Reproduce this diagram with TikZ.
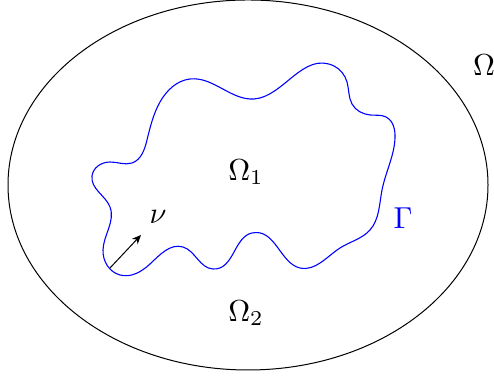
\documentclass[tikz,border=0pt]{standalone}
\usetikzlibrary{arrows.meta,hobby}
\begin{document}
\begin{tikzpicture}[x=0.33pt,y=-0.33pt,
  lab/.style={inner sep=0pt},
  thinline/.style={line width=0.33pt},
  gam/.style={blue, line width=0.36pt}]
\useasboundingbox (0,0) rectangle (494,378);
\draw[thinline] (248,185) ellipse [x radius=240, y radius=185];
\draw[gam, use Hobby shortcut, closed=true]
 (120,275) .. (103,250) .. (110,207) .. (92,176) .. (110,162) .. (132,163)
 .. (147,140) .. (160,102) .. (190,79) .. (254,99) .. (334,66)
 .. (347,82) .. (352,104) .. (370,115) .. (386,117)
 .. (395,138) .. (382,190) .. (370,230) .. (340,248) .. (300,268) .. (252,233)
 .. (213,269) .. (183,247) .. (150,264);
\coordinate (nbase) at (110,268);
\coordinate (ntip) at (141,235);
\draw[thinline,-{Stealth[length=3pt,width=2.6pt]}] (nbase) -- (ntip);
\node[lab] (nu) at (158,217) {$\nu$};
\node[lab] (o1) at (246,172) {$\Omega_1$};
\node[lab] (o2) at (246,313) {$\Omega_2$};
\node[lab,blue] (g) at (403,218) {$\Gamma$};
\node[lab] (o) at (484,65) {$\Omega$};
\end{tikzpicture}
\end{document}
